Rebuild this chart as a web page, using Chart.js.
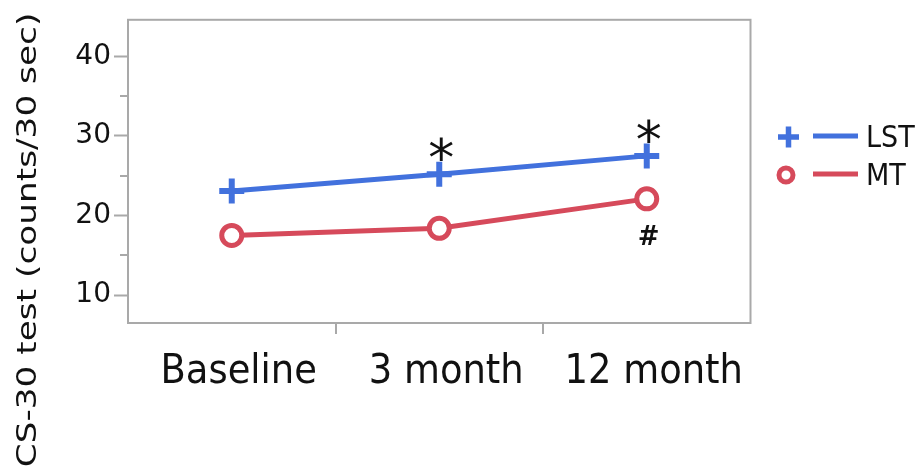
<!DOCTYPE html>
<html><head><meta charset="utf-8">
<style>html,body{margin:0;padding:0;background:#fff}#wrap{width:922px;height:473px}</style>
<script src="https://cdn.jsdelivr.net/npm/chart.js@4"></script>
</head><body><div id="wrap"><canvas id="c" width="922" height="473"></canvas></div>
<script>
const categories = ['Baseline', '3 month', '12 month'];
const seriesNames = ['LST', 'MT'];
const lstValues = [23.1, 25.2, 27.5];
const mtValues = [17.5, 18.4, 22.1];
const lstMarks = ['', '*', '*'];
const mtMarks = ['', '', '#'];
const yMajorTicks = [10, 20, 30, 40];
const yMinorTicks = [15, 25, 35];
const yTitle = 'CS-30 test (counts/30 sec)';

const BLUE = '#4271DD';
const RED = '#D64A5B';
const GRAY = '#A9A9A9';
const TXT = '#111111';
const COND = "'DejaVu Sans Condensed', 'DejaVu Sans', sans-serif";
const SANS = "'DejaVu Sans', sans-serif";

function drawInkCentered(ctx, text, x, y) {
  const m = ctx.measureText(text);
  const asc = m.actualBoundingBoxAscent, desc = m.actualBoundingBoxDescent;
  ctx.textAlign = 'center';
  ctx.textBaseline = 'alphabetic';
  ctx.fillText(text, x, y + (asc - desc) / 2);
}

const framePlugin = {
  id: 'frame',
  beforeDatasetsDraw(chart) {
    const { ctx, chartArea: a } = chart;
    const y = chart.scales.y;
    ctx.save();
    ctx.strokeStyle = GRAY;
    ctx.lineWidth = 2;
    ctx.strokeRect(a.left, a.top, a.right - a.left, a.bottom - a.top);
    yMinorTicks.forEach(v => {
      const py = Math.round(y.getPixelForValue(v));
      ctx.beginPath();
      ctx.moveTo(a.left - 8, py);
      ctx.lineTo(a.left, py);
      ctx.stroke();
    });
    ctx.restore();
  },
  afterDraw(chart) {
    const { ctx } = chart;
    ctx.save();
    ctx.fillStyle = TXT;
    ctx.font = '27px ' + SANS;
    ctx.translate(28, 240);
    ctx.rotate(-Math.PI / 2);
    ctx.scale(1.27, 1);
    drawInkCentered(ctx, yTitle, 0, 0);
    ctx.restore();

    const marks = [lstMarks, mtMarks];
    ctx.save();
    ctx.fillStyle = TXT;
    chart.data.datasets.forEach((ds, di) => {
      const meta = chart.getDatasetMeta(di);
      meta.data.forEach((pt, i) => {
        const t = marks[di][i];
        if (!t) return;
        if (di === 0) {
          ctx.font = '52px ' + SANS;
          drawInkCentered(ctx, t, pt.x + 2, pt.y - 25);
        } else {
          ctx.font = 'bold 26px ' + SANS;
          drawInkCentered(ctx, t, pt.x + 2, pt.y + 36);
        }
      });
    });
    ctx.restore();

    ctx.save();
    const rows = [137, 175];
    chart.data.datasets.forEach((ds, di) => {
      const cy = rows[di];
      ctx.strokeStyle = ds.borderColor;
      ctx.lineWidth = 5;
      if (ds.pointStyle === 'cross') {
        ctx.lineWidth = 5.5;
        ctx.beginPath();
        ctx.moveTo(778, cy); ctx.lineTo(799, cy);
        ctx.moveTo(788.5, cy - 10.5); ctx.lineTo(788.5, cy + 10.5);
        ctx.stroke();
      } else {
        ctx.beginPath();
        ctx.arc(786, cy, 7, 0, Math.PI * 2);
        ctx.fillStyle = '#fff';
        ctx.fill();
        ctx.stroke();
      }
      ctx.lineWidth = 5;
      ctx.beginPath();
      ctx.moveTo(813, cy - 1); ctx.lineTo(858, cy - 1);
      ctx.stroke();
      ctx.fillStyle = TXT;
      ctx.font = '30px ' + COND;
      ctx.textAlign = 'left';
      ctx.textBaseline = 'alphabetic';
      ctx.fillText(ds.label, 866, cy + 10);
    });
    ctx.restore();
  }
};

new Chart(document.getElementById('c'), {
  type: 'line',
  data: {
    labels: categories,
    datasets: [
      {
        label: seriesNames[0], data: lstValues,
        borderColor: BLUE, borderWidth: 5, tension: 0,
        pointStyle: 'cross', pointRadius: 12.5, pointBorderWidth: 6,
        pointBorderColor: BLUE, pointBackgroundColor: BLUE, pointHoverRadius: 12.5
      },
      {
        label: seriesNames[1], data: mtValues,
        borderColor: RED, borderWidth: 5, tension: 0,
        pointStyle: 'circle', pointRadius: 10, pointBorderWidth: 5,
        pointBorderColor: RED, pointBackgroundColor: '#ffffff', pointHoverRadius: 10
      }
    ]
  },
  options: {
    responsive: false,
    devicePixelRatio: 1,
    animation: false,
    events: [],
    layout: { padding: { left: 0, top: 15, right: 171.5, bottom: 0 } },
    plugins: { legend: { display: false }, tooltip: { enabled: false } },
    scales: {
      x: {
        type: 'category',
        offset: true,
        afterFit(s) { s.height = 150; },
        border: { display: false },
        grid: {
          offset: true, drawOnChartArea: false, tickLength: 11, lineWidth: 2,
          tickWidth: 2,
          tickColor: c => (c.type !== 'tick' || c.index === 0) ? 'rgba(0,0,0,0)' : GRAY
        },
        ticks: {
          color: TXT, padding: 14, labelOffset: 7,
          maxRotation: 0, autoSkip: false,
          font: { family: COND, size: 41 }
        }
      },
      y: {
        type: 'linear',
        min: 6.5, max: 44.6,
        afterFit(s) { s.width = 128; },
        afterBuildTicks(s) { s.ticks = yMajorTicks.map(v => ({ value: v })); },
        border: { display: false },
        grid: { drawOnChartArea: false, tickLength: 14, tickWidth: 2, tickColor: GRAY },
        ticks: { color: TXT, padding: 3, font: { family: SANS, size: 28 } }
      }
    }
  },
  plugins: [framePlugin]
});
</script>
</body></html>
